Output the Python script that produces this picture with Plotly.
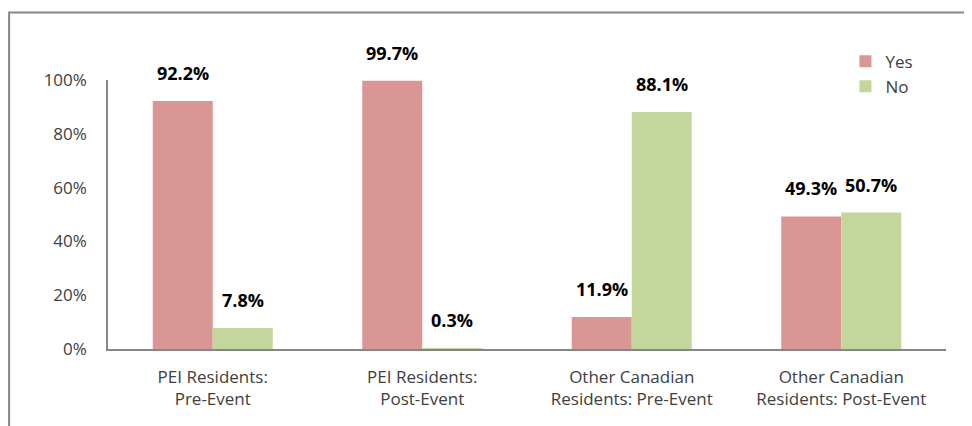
import plotly.graph_objects as go

categories = ["PEI Residents:<br>Pre-Event", "PEI Residents:<br>Post-Event",
              "Other Canadian<br>Residents: Pre-Event", "Other Canadian<br>Residents: Post-Event"]
yes_vals = [0.922, 0.997, 0.119, 0.493]
no_vals = [0.078, 0.003, 0.881, 0.507]
series_names = ["Yes", "No"]
colors = ["#D99694", "#C3D69B"]
tick_vals = [0, 0.2, 0.4, 0.6, 0.8, 1.0]
tick_text = ["0%", "20%", "40%", "60%", "80%", "100%"]

FONT = "Open Sans, Liberation Sans, sans-serif"

fig = go.Figure()
for name, vals, col in zip(series_names, [yes_vals, no_vals], colors):
    fig.add_trace(go.Bar(x=categories, y=vals, name=name, marker_color=col,
                         marker_line_width=0, legendgroup=name))

annotations = []
for i, cat in enumerate(categories):
    for vals, shift in ((yes_vals, -30), (no_vals, 30)):
        annotations.append(dict(x=cat, y=vals[i], xref="x", yref="y",
                                text=f"<b>{vals[i]*100:.1f}%</b>", showarrow=False,
                                xshift=shift, yshift=28, yanchor="middle",
                                font=dict(family=FONT, size=18, color="#000000")))

fig.update_layout(
    width=972, height=426,
    margin=dict(l=100, r=34, t=72, b=85),
    paper_bgcolor="white", plot_bgcolor="white",
    barmode="group", bargap=0.427, bargroupgap=0,
    font=dict(family=FONT, size=17, color="#404040"),
    annotations=annotations,
    legend=dict(x=0.88, y=1.135, xanchor="left", yanchor="top",
                font=dict(size=17, color="#404040"), tracegroupgap=0,
                bgcolor="rgba(0,0,0,0)"),
    xaxis=dict(showline=True, linecolor="#868686", linewidth=1.5, ticks="",
               tickfont=dict(size=17, color="#404040"), showgrid=False,
               ticklabelstandoff=12),
    yaxis=dict(range=[0, 1], tickvals=tick_vals, ticktext=tick_text, showline=True,
               linecolor="#868686", linewidth=1.5, showgrid=False, zeroline=False,
               ticks="", ticklabelstandoff=16,
               tickfont=dict(size=17, color="#404040")),
    shapes=[dict(type="rect", xref="paper", yref="paper",
                 x0=-0.118, x1=1.2, y0=-0.5, y1=1.251,
                 line=dict(color="#868686", width=2))],
)

fig.write_html("out.html")
